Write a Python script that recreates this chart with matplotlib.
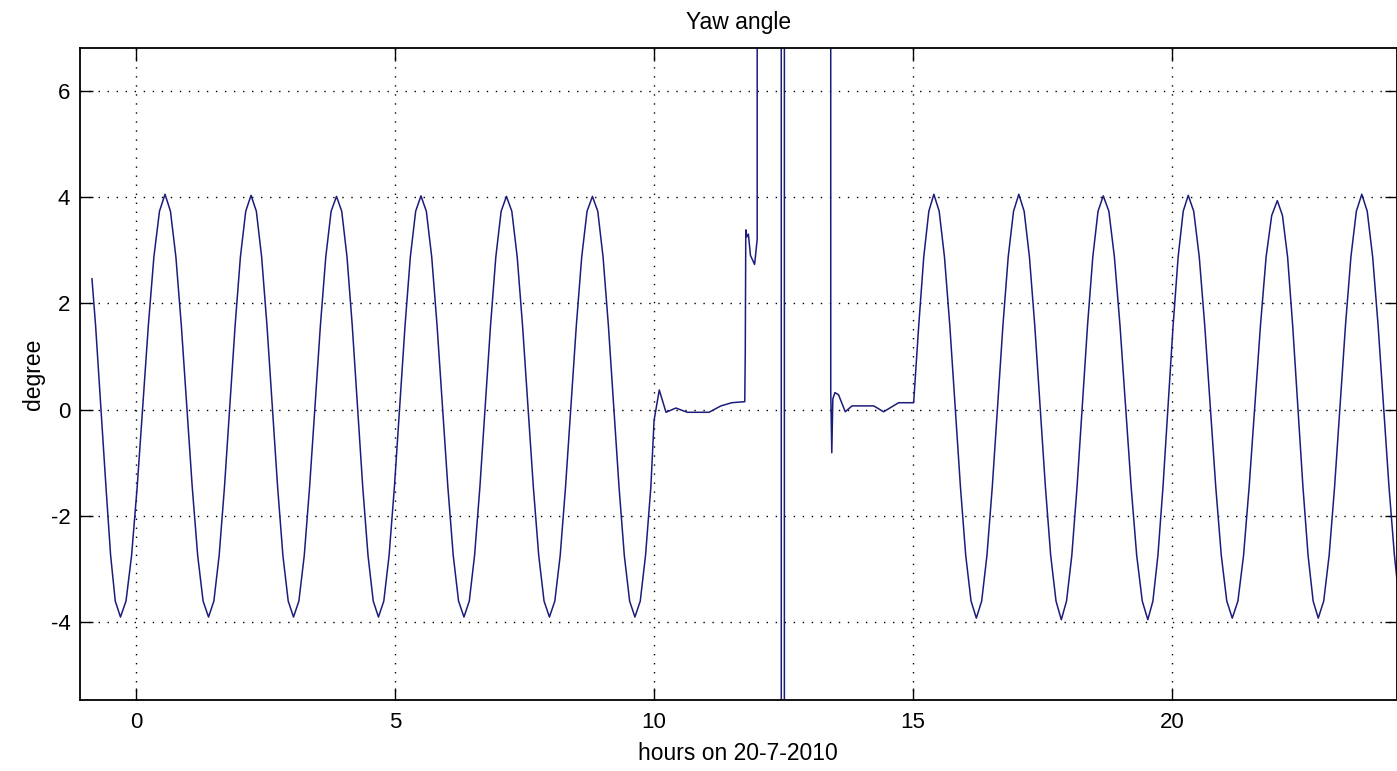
import numpy as np
import matplotlib.pyplot as plt

plt.rcParams['font.family'] = ['Liberation Sans', 'DejaVu Sans']
plt.rcParams['axes.unicode_minus'] = False

# yaw angle before the manoeuvre (hours, degree)
hours_before = [
    -0.85, -0.78, -0.68, -0.58, -0.49, -0.40, -0.30,
    -0.193, -0.085, 0.023, 0.13, 0.238, 0.345, 0.453, 0.56,
    0.665, 0.77, 0.875, 0.98, 1.085, 1.19, 1.295, 1.40,
    1.503, 1.605, 1.708, 1.81, 1.913, 2.015, 2.118, 2.22,
    2.323, 2.425, 2.528, 2.63, 2.733, 2.835, 2.938, 3.04,
    3.144, 3.248, 3.351, 3.455, 3.559, 3.663, 3.766, 3.87,
    3.971, 4.073, 4.174, 4.275, 4.376, 4.478, 4.579, 4.68,
    4.783, 4.885, 4.988, 5.09, 5.193, 5.295, 5.398, 5.50,
    5.604, 5.708, 5.811, 5.915, 6.019, 6.123, 6.226, 6.33,
    6.433, 6.535, 6.638, 6.74, 6.843, 6.945, 7.048, 7.15,
    7.254, 7.358, 7.461, 7.565, 7.669, 7.773, 7.876, 7.98,
    8.084, 8.188, 8.291, 8.395, 8.499, 8.603, 8.706, 8.81,
    8.913, 9.015, 9.118, 9.22, 9.323, 9.425, 9.528, 9.63,
    9.733, 9.835, 9.938,
]
yaw_before = [
    2.46, 1.58, 0.07, -1.45, -2.74, -3.60, -3.90,
    -3.60, -2.74, -1.45, 0.07, 1.58, 2.87, 3.73, 4.05,
    3.73, 2.87, 1.58, 0.07, -1.45, -2.74, -3.60, -3.90,
    -3.60, -2.74, -1.45, 0.07, 1.58, 2.87, 3.73, 4.03,
    3.73, 2.87, 1.58, 0.07, -1.45, -2.74, -3.60, -3.90,
    -3.60, -2.74, -1.45, 0.07, 1.58, 2.87, 3.73, 4.01,
    3.73, 2.87, 1.58, 0.07, -1.45, -2.74, -3.60, -3.90,
    -3.60, -2.74, -1.45, 0.07, 1.58, 2.87, 3.73, 4.02,
    3.73, 2.87, 1.58, 0.07, -1.45, -2.74, -3.60, -3.90,
    -3.60, -2.74, -1.45, 0.07, 1.58, 2.87, 3.73, 4.01,
    3.73, 2.87, 1.58, 0.07, -1.45, -2.74, -3.60, -3.90,
    -3.60, -2.74, -1.45, 0.07, 1.58, 2.87, 3.73, 4.01,
    3.73, 2.87, 1.58, 0.07, -1.45, -2.74, -3.60, -3.90,
    -3.60, -2.74, -1.45,
]

# manoeuvre, values out of range are the wrap around
hours_mid = [10.0, 10.1, 10.23, 10.42, 10.64, 11.06, 11.29, 11.5, 11.75,
             11.76, 11.77, 11.79, 11.82, 11.86, 11.94, 11.99, 12.0, 12.45,
             12.46, 12.51, 12.52, 13.40, 13.41, 13.43, 13.45, 13.49, 13.56,
             13.62, 13.69, 13.82, 14.24, 14.43, 14.72]
yaw_mid = [-0.2, 0.37, -0.05, 0.03, -0.05, -0.05, 0.07, 0.13, 0.15,
           1.07, 3.38, 3.25, 3.3, 2.9, 2.73, 3.2, 180, 180,
           -180, -180, 180, 180, 0.34, -0.81, 0.2, 0.32, 0.28,
           0.13, -0.04, 0.07, 0.07, -0.04, 0.13]

hours_after = [
    15.01, 15.108, 15.205, 15.303, 15.40,
    15.503, 15.605, 15.708, 15.81, 15.913, 16.015, 16.118, 16.22,
    16.323, 16.425, 16.528, 16.63, 16.733, 16.835, 16.938, 17.04,
    17.143, 17.245, 17.348, 17.45, 17.553, 17.655, 17.758, 17.86,
    17.961, 18.063, 18.164, 18.265, 18.366, 18.468, 18.569, 18.67,
    18.778, 18.885, 18.993, 19.10, 19.208, 19.315, 19.423, 19.53,
    19.628, 19.725, 19.823, 19.92, 20.018, 20.115, 20.213, 20.31,
    20.416, 20.523, 20.629, 20.735, 20.841, 20.948, 21.054, 21.16,
    21.269, 21.378, 21.486, 21.595, 21.704, 21.813, 21.921, 22.03,
    22.129, 22.228, 22.326, 22.425, 22.524, 22.623, 22.721, 22.82,
    22.925, 23.03, 23.135, 23.24, 23.345, 23.45, 23.555, 23.66,
    23.765, 23.87, 23.975, 24.08, 24.185, 24.29, 24.35,
]
yaw_after = [
    0.13, 1.58, 2.87, 3.73, 4.05,
    3.73, 2.87, 1.58, 0.07, -1.45, -2.74, -3.60, -3.92,
    -3.60, -2.74, -1.45, 0.07, 1.58, 2.87, 3.73, 4.05,
    3.73, 2.87, 1.58, 0.07, -1.45, -2.74, -3.60, -3.95,
    -3.60, -2.74, -1.45, 0.07, 1.58, 2.87, 3.73, 4.02,
    3.73, 2.87, 1.58, 0.07, -1.45, -2.74, -3.60, -3.95,
    -3.60, -2.74, -1.45, 0.07, 1.58, 2.87, 3.73, 4.03,
    3.73, 2.87, 1.58, 0.07, -1.45, -2.74, -3.60, -3.92,
    -3.60, -2.74, -1.45, 0.07, 1.58, 2.87, 3.65, 3.93,
    3.65, 2.87, 1.58, 0.07, -1.45, -2.74, -3.60, -3.92,
    -3.60, -2.74, -1.45, 0.07, 1.58, 2.87, 3.73, 4.05,
    3.73, 2.87, 1.58, 0.07, -1.45, -2.74, -3.30,
]

hours = np.array(hours_before + hours_mid + hours_after)
yaw = np.array(yaw_before + yaw_mid + yaw_after)

fig = plt.figure(figsize=(13.97, 7.71), dpi=100)
ax = fig.add_axes([80/1397, 1 - 700/771, (1396.5 - 80)/1397, (700 - 48)/771])

ax.plot(hours, yaw, color='#1c1c7a', lw=1.1)

ax.set_xlim(-1.081, 24.33)
ax.set_ylim(-5.46, 6.80)
ax.set_xticks([0, 5, 10, 15, 20])
ax.set_yticks([-4, -2, 0, 2, 4, 6])
ax.grid(True, color='black', linestyle=(0, (1, 5.5)), linewidth=1.0)

ax.tick_params(direction='in', length=9, width=1, top=True, right=True,
               labelsize=16)
ax.tick_params(axis='x', pad=9)
ax.tick_params(axis='y', pad=7)
for s in ax.spines.values():
    s.set_linewidth(1.3)

ax.set_title('Yaw angle', fontsize=16.5, pad=14)
ax.set_xlabel('hours on 20-7-2010', fontsize=16.5, labelpad=6)
ax.set_ylabel('degree', fontsize=16.5, labelpad=4)

fig.savefig('out.png', dpi=100)
